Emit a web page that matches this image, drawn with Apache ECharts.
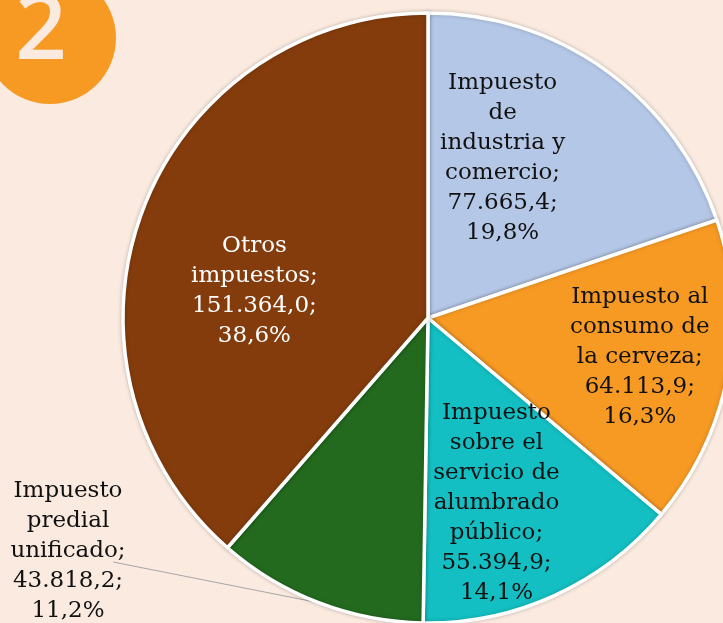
<!DOCTYPE html>
<html>
<head>
<meta charset="utf-8">
<style>
  html, body { margin: 0; padding: 0; background: #fbeadf; }
  #chart { width: 723px; height: 623px; }
</style>
<script src="https://cdn.jsdelivr.net/npm/echarts@6/dist/echarts.min.js"></script>
</head>
<body>
<div id="chart"></div>
<script>
// categories, clockwise from 12 o'clock
var names = [
    'Impuesto\nde\nindustria y\ncomercio',
    'Impuesto al\nconsumo de\nla cerveza',
    'Impuesto\nsobre el\nservicio de\nalumbrado\npúblico',
    'Impuesto\npredial\nunificado',
    'Otros\nimpuestos'
];
var values = [77665.4, 64113.9, 55394.9, 43818.2, 151364.0];
var colors = ['#b4c7e7', '#f79a24', '#13bfc2', '#236a1f', '#843c0c'];

// 77.665,4 style
function fmtNum(v) {
    var parts = v.toFixed(1).split('.');
    var ent = parts[0].replace(/\B(?=(\d{3})+(?!\d))/g, '.');
    return ent + ',' + parts[1];
}

var myChart = echarts.init(document.getElementById('chart'));

// label nudges from the default inside position
var shift = [[-16, -34], [59, 10], [4, 44], [0, 0], [-28, 28]];

var chartOption = {
    backgroundColor: '#fbeadf',
    graphic: [{
        type: 'circle',
        shape: { cx: 50, cy: 38, r: 66 },
        style: { fill: '#f79a24' }
    }, {
        type: 'text',
        x: 41,
        y: 33,
        style: {
            text: '2',
            fill: '#fbeadf',
            font: '600 90px "Open Sans", sans-serif',
            align: 'center',
            verticalAlign: 'middle'
        }
    }],
    series: [{
        type: 'pie',
        center: [428, 318],
        radius: [0, 305],
        startAngle: 90,
        clockwise: true,
        animation: false,
        itemStyle: {
            borderColor: '#ffffff',
            borderWidth: 3.5,
            shadowBlur: 4,
            shadowColor: 'rgba(0,0,0,0.2)'
        },
        label: {
            show: true,
            position: 'inside',
            fontFamily: 'DejaVu Serif',
            fontSize: 23,
            lineHeight: 30,
            color: '#111111',
            align: 'center',
            formatter: function (p) {
                return p.name + ';\n' + fmtNum(p.value) + ';\n' + p.percent.toFixed(1).replace('.', ',') + '%';
            }
        },
        labelLine: { show: false },
        labelLayout: function (p) {
            if (p.dataIndex === 3) {
                var start = p.labelLinePoints ? p.labelLinePoints[0] : [319, 603];
                return {
                    x: 68,
                    y: 551,
                    align: 'center',
                    verticalAlign: 'middle',
                    labelLinePoints: [start, [113, 562]]
                };
            }
            return { dx: shift[p.dataIndex][0], dy: shift[p.dataIndex][1] };
        },
        data: names.map(function (n, i) {
            var d = { name: n, value: values[i], itemStyle: { color: colors[i] } };
            if (i === 3) {
                d.label = { position: 'outside', color: '#111111' };
                d.labelLine = { show: true, length: 10, length2: 10, lineStyle: { color: '#a6a6a6', width: 1 } };
            }
            if (i === 4) {
                d.label = { color: '#ffffff' };
            }
            return d;
        })
    }]
};

myChart.setOption(chartOption);
</script>
</body>
</html>
